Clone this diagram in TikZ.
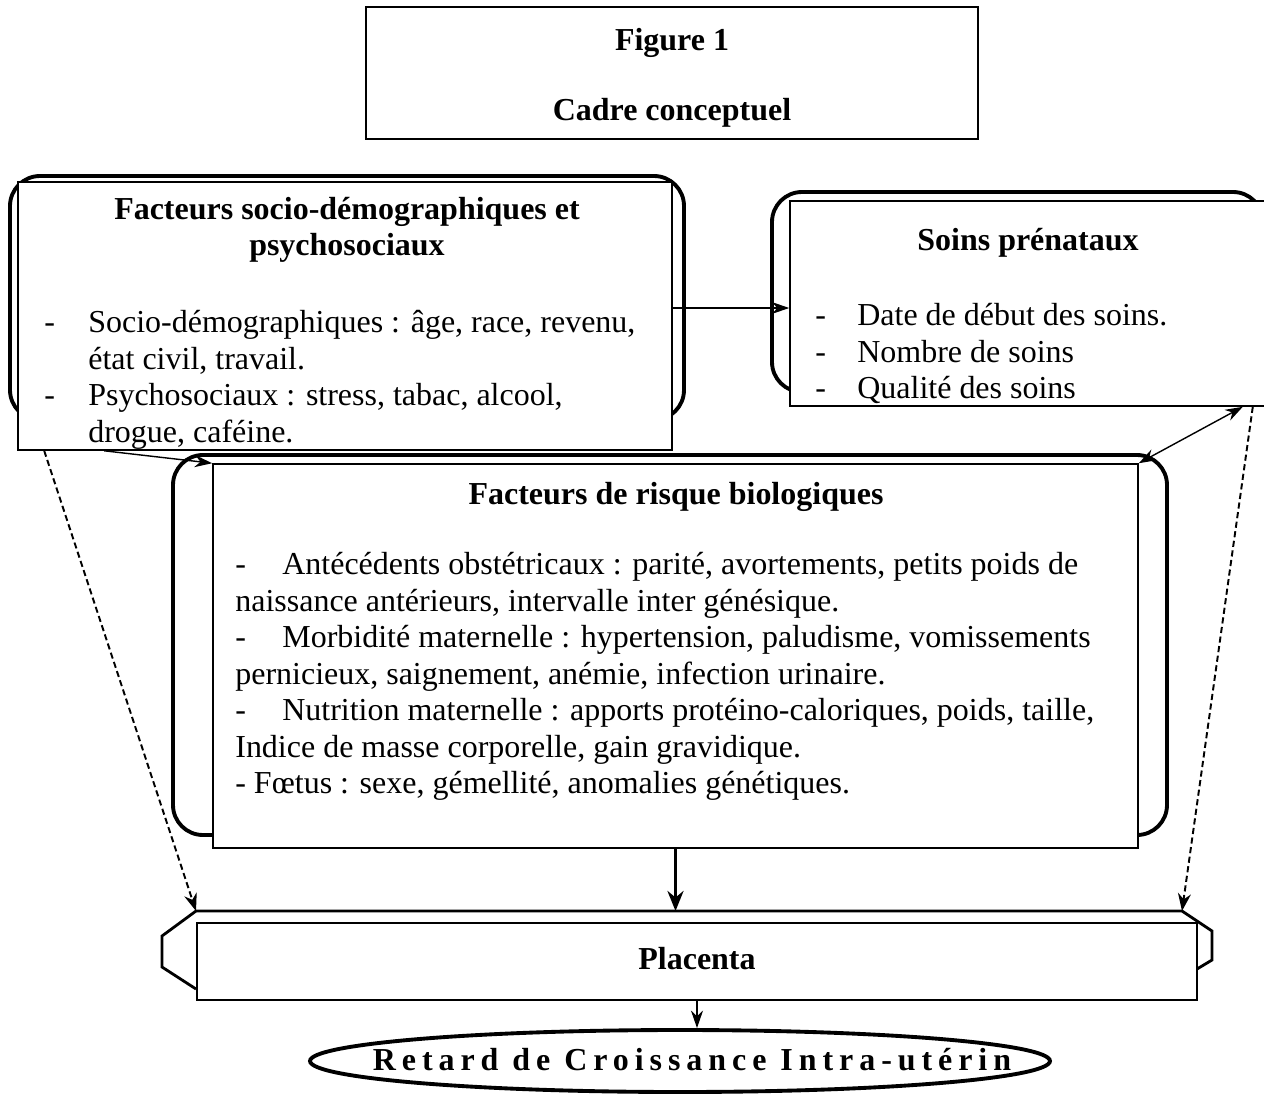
\documentclass[tikz,border=0pt]{standalone}
\usepackage{fontspec}
\setmainfont{Liberation Serif}
\newfontfamily\spacedfont[LetterSpace=18.6]{Liberation Serif}
\usetikzlibrary{arrows.meta,shapes.geometric}

\newcommand{\tiret}[1]{\makebox[#1][l]{-}}

\begin{document}
\begin{tikzpicture}[
    back/.style={draw, line width=2.2pt, rounded corners=0.6cm},
    frontbox/.style={draw, line width=0.9pt, fill=white, inner sep=0pt},
    heading/.style={align=center, font=\fontsize{18.2}{20.8}\selectfont\bfseries},
    items/.style={align=left, anchor=north west, inner sep=0pt, font=\fontsize{18.2}{20.8}\selectfont},
    arrow/.style={-{Stealth[length=3.5mm,width=2.4mm]}, line width=0.8pt},
    dasharrow/.style={-{Stealth[length=3.5mm,width=2.6mm]}, line width=1.1pt, dash pattern=on 3.5pt off 2pt}
]
\useasboundingbox (0,0) rectangle (25.28,-21.88);

% titre
\node[frontbox, minimum width=12.24cm, minimum height=2.64cm] (title) at (13.44,-1.46) {};
\node[heading] (titletext) at (13.44,-1.56) {Figure 1\\[0.68cm]Cadre conceptuel};

% facteurs socio-demographiques
\draw[back] (0.2,-3.52) rectangle (13.68,-8.4);
\node[frontbox, minimum width=13.08cm, minimum height=5.36cm] (socio) at (6.9,-6.32) {};
\node[heading] (sociotitle) at (6.94,-4.6) {Facteurs socio-démographiques et\\psychosociaux};
\node[items] (socioitems) at (0.88,-6.2) {\tiret{0.88cm}Socio-démographiques : âge, race, revenu,\\
  \hspace*{0.88cm}état civil, travail.\\
  \tiret{0.88cm}Psychosociaux : stress, tabac, alcool,\\
  \hspace*{0.88cm}drogue, caféine.};

% soins prenataux
\draw[back] (15.44,-3.84) rectangle (25.26,-7.84);
\node[frontbox, minimum width=9.56cm, minimum height=4.1cm] (soins) at (20.58,-6.07) {};
\node[heading] (soinstitle) at (20.56,-4.86) {Soins prénataux};
\node[items] (soinsitems) at (16.3,-6.06) {\tiret{0.84cm}Date de début des soins.\\
  \tiret{0.84cm}Nombre de soins\\
  \tiret{0.84cm}Qualité des soins};

% facteurs biologiques
\draw[back] (3.46,-9.1) rectangle (23.34,-16.7);
\node[frontbox, minimum width=18.5cm, minimum height=7.68cm] (bio) at (13.51,-13.12) {};
\node[heading] (biotitle) at (13.52,-9.94) {Facteurs de risque biologiques};
\node[items] (bioitems) at (4.7,-11.04) {\tiret{0.94cm}Antécédents obstétricaux : parité, avortements, petits poids de\\
  naissance antérieurs, intervalle inter génésique.\\
  \tiret{0.94cm}Morbidité maternelle : hypertension, paludisme, vomissements\\
  pernicieux, saignement, anémie, infection urinaire.\\
  \tiret{0.94cm}Nutrition maternelle : apports protéino-caloriques, poids, taille,\\
  Indice de masse corporelle, gain gravidique.\\
  - Fœtus : sexe, gémellité, anomalies génétiques.};

% placenta
\coordinate (plL) at (3.92,-18.22);
\coordinate (plR) at (23.64,-18.22);
\draw[line width=1.6pt] (3.92,-19.78) -- (3.24,-19.34) -- (3.24,-18.72) -- (plL) -- (plR) -- (24.24,-18.62) -- (24.24,-19.2) -- (23.94,-19.38);
\node[frontbox, minimum width=20cm, minimum height=1.54cm, heading] (placenta) at (13.94,-19.23) {\raisebox{0.14cm}{Placenta}};

% RCIU
\node[draw, ellipse, line width=2.2pt, minimum width=14.8cm, minimum height=1.24cm] (retard) at (13.6,-21.22) {};
\node[font=\fontsize{18.2}{20.8}\spacedfont\bfseries] (retardtext) at (13.84,-21.2) {Retard de Croissance Intra-utérin};

% fleches
\draw[arrow] ([yshift=0.16cm]socio.east) -- ([yshift=0.16cm]socio.east -| soins.west);
\draw[arrow] ([xshift=1.74cm]socio.south west) -- (bio.north west);
\draw[arrow, {Stealth[length=3.5mm,width=2.4mm]}-{Stealth[length=3.5mm,width=2.4mm]}] ([xshift=-0.52cm]soins.south east) -- (bio.north east);
\draw[dasharrow] ([xshift=0.54cm]socio.south west) -- (plL);
\draw[dasharrow] ([xshift=-0.32cm]soins.south east) -- (plR);
\draw[arrow, line width=2pt, -{Stealth[length=4mm,width=3.2mm]}] (bio.south) -- (bio.south |- plL);
\draw[arrow] (placenta.south) -- (placenta.south |- retard.north);
\end{tikzpicture}
\end{document}
